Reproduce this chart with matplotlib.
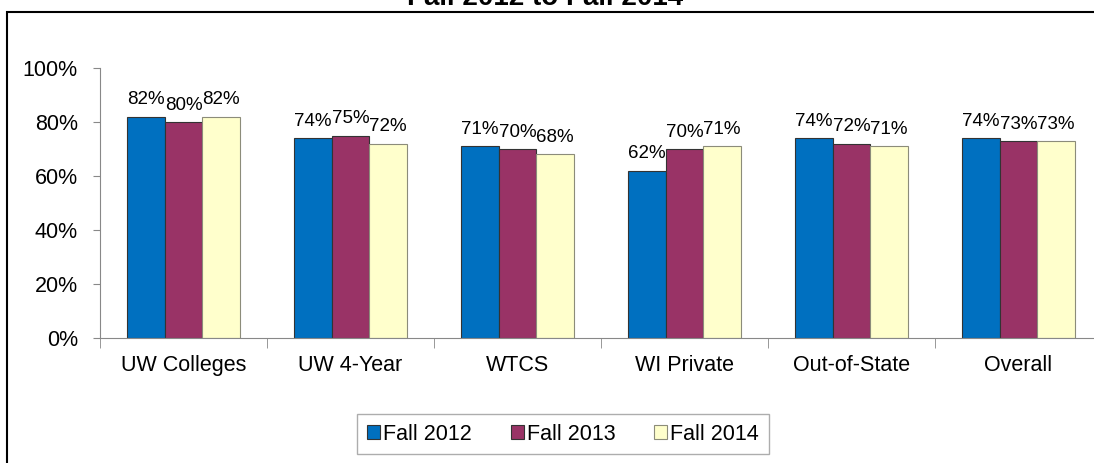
import numpy as np
import matplotlib as mpl
import matplotlib.pyplot as plt
from matplotlib.patches import Rectangle
from matplotlib.ticker import PercentFormatter

mpl.rcParams['font.family'] = ['Liberation Sans', 'DejaVu Sans']

# data
categories = ['UW Colleges', 'UW 4-Year', 'WTCS', 'WI Private', 'Out-of-State', 'Overall']
fall2012 = [82, 74, 71, 62, 74, 74]
fall2013 = [80, 75, 70, 70, 72, 73]
fall2014 = [82, 72, 68, 71, 71, 73]
series_names = ['Fall 2012', 'Fall 2013', 'Fall 2014']
colors = ['#0070C0', '#993366', '#FFFFCC']
edges = ['#333333', '#333333', '#8C8C7A']
fs = 15.5

fig = plt.figure(figsize=(10.94, 4.63), dpi=100)
ax = fig.add_axes([100/1094, 1-338/463, 1002/1094, 270/463])

x = np.arange(len(categories))
w = 0.225
for i, (vals, name) in enumerate(zip([fall2012, fall2013, fall2014], series_names)):
    bars = ax.bar(x + (i-1)*w, vals, w, color=colors[i], edgecolor=edges[i],
                  linewidth=0.8, label=name)
    for b, v in zip(bars, vals):
        ax.annotate('%d%%' % v, (b.get_x()+b.get_width()/2, v), xytext=(0, 6),
                    textcoords='offset points', ha='center', va='bottom', fontsize=13.5)

ax.set_xlim(-0.5, len(categories)-0.5)
ax.set_ylim(0, 100)
ax.set_yticks(range(0, 101, 20))
ax.yaxis.set_major_formatter(PercentFormatter(decimals=0))
ax.set_xticks(x)
ax.set_xticklabels(categories, fontsize=fs)
ax.set_xticks(np.arange(-0.5, len(categories)), minor=True)
ax.tick_params(axis='x', which='major', length=0, pad=12)
ax.tick_params(axis='x', which='minor', length=7, color='#888888')
ax.tick_params(axis='y', labelsize=fs, length=5, color='#888888', pad=11)
for s in ['top', 'right']:
    ax.spines[s].set_visible(False)
for s in ['left', 'bottom']:
    ax.spines[s].set_color('#888888')

leg = fig.legend(loc='center', bbox_to_anchor=(563/1094, 1-434/463), ncol=3,
                 fontsize=fs, frameon=True, fancybox=False, handlelength=0.6,
                 handleheight=0.6, handletextpad=0.15, columnspacing=1.8,
                 borderpad=0.45, borderaxespad=0)
leg.get_frame().set_edgecolor('#999999')
leg.get_frame().set_linewidth(1)

# outer chart frame
fig.patches.append(Rectangle((7/1094, -0.1), 1.2, 1-12/463+0.1, transform=fig.transFigure,
                             fill=False, edgecolor='black', linewidth=1.5))
fig.text(545/1094, 1-5/463, 'Fall 2012 to Fall 2014', ha='center', va='baseline',
         fontsize=20, fontweight='bold')

fig.savefig('out.png', dpi=100)
